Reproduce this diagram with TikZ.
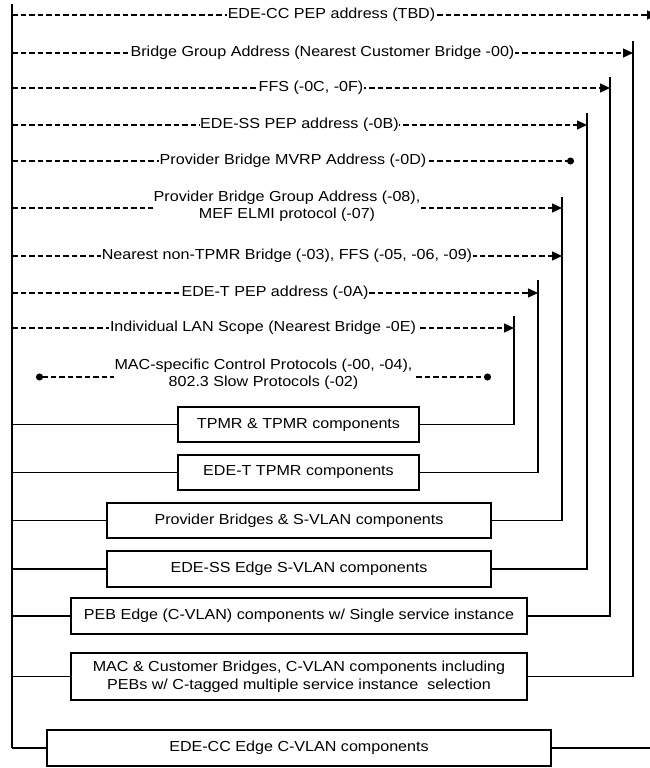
\documentclass[tikz,border=0pt]{standalone}
\usepackage{fontspec}
\setmainfont{Liberation Sans}[FakeStretch=1.11]
\usetikzlibrary{arrows.meta}
\tikzset{
  lbl/.style={font=\fontsize{14.5}{17.5}\selectfont, fill=white, inner xsep=0.6pt, inner ysep=1pt, align=center},
  cbox/.style={draw, line width=1.5pt, font=\fontsize{14.5}{17.5}\selectfont, align=center, inner sep=0pt, fill=white},
  dsh/.style={dash pattern=on 5.5pt off 3pt, line width=1.3pt},
  arr/.style={-{Triangle[length=10pt,width=9pt]}},
  dotend/.style={-{Circle[length=7pt]}},
  dotboth/.style={{Circle[length=7pt]}-{Circle[length=7pt]}},
  solidln/.style={line width=1.9pt},
}
\begin{document}
\begin{tikzpicture}[x=1pt,y=-1pt]
\useasboundingbox (0,0) rectangle (650,768);
% left trunk
\coordinate (ltop) at (12,4);
\coordinate (lbot) at (12,748);
\draw[solidln] (ltop) -- (lbot);
% vertical line tops
\coordinate (v1) at (633,41);
\coordinate (v2) at (610,77);
\coordinate (v3) at (587,113);
\coordinate (v4) at (562,197);
\coordinate (v5) at (538,280);
\coordinate (v6) at (514,316);
% left starts of rows
\coordinate (s1) at (12,15);
\coordinate (s2) at (12,53);
\coordinate (s3) at (12,88);
\coordinate (s4) at (12,125);
\coordinate (s5) at (12,161);
\coordinate (s6) at (12,208);
\coordinate (s7) at (12,256);
\coordinate (s8) at (12,293);
\coordinate (s9) at (12,328);
\coordinate (s10) at (36,377);
% row ends
\coordinate (e1) at (657,15);
\coordinate (e2) at (633,53);
\coordinate (e3) at (610,88);
\coordinate (e4) at (587,125);
\coordinate (e5) at (574,161);
\coordinate (e6) at (562,208);
\coordinate (e7) at (562,256);
\coordinate (e8) at (538,293);
\coordinate (e9) at (514,328);
\coordinate (e10) at (491,377);
% dashed rows
\draw[dsh,arr] (s1) -- (e1) node[lbl,midway,xshift=-3pt] (t1) {EDE-CC PEP address (TBD)};
\draw[dsh,arr] (s2) -- (e2) node[lbl,midway] (t2) {Bridge Group Address (Nearest Customer Bridge -00)};
\draw[dsh,arr] (s3) -- (e3) node[lbl,midway] (t3) {FFS (-0C, -0F)};
\draw[dsh,arr] (s4) -- (e4) node[lbl,midway] (t4) {EDE-SS PEP address (-0B)};
\draw[dsh,dotend] (s5) -- (e5) node[lbl,midway] (t5) {Provider Bridge MVRP Address (-0D)};
\draw[dsh,arr] (s6) -- (e6) node[lbl,midway,yshift=2pt,inner ysep=0pt] (t6) {Provider Bridge Group Address (-08),\\MEF ELMI protocol (-07)};
\draw[dsh,arr] (s7) -- (e7) node[lbl,midway] (t7) {Nearest non-TPMR Bridge (-03), FFS (-05, -06, -09)};
\draw[dsh,arr] (s8) -- (e8) node[lbl,midway] (t8) {EDE-T PEP address (-0A)};
\draw[dsh,arr] (s9) -- (e9) node[lbl,midway] (t9) {Individual LAN Scope (Nearest Bridge -0E)};
\draw[dsh,dotboth] (s10) -- (e10) node[lbl,midway,yshift=3pt,inner ysep=0pt] (t10) {MAC-specific Control Protocols (-00, -04),\\802.3 Slow Protocols (-02)};
% boxes
\node[cbox,minimum width=241pt,minimum height=35pt] (b1) at (298.5,424.5) {TPMR \& TPMR components};
\node[cbox,minimum width=241pt,minimum height=35pt] (b2) at (298.5,472.5) {EDE-T TPMR components};
\node[cbox,minimum width=384pt,minimum height=35pt] (b3) at (299,520.5) {Provider Bridges \& S-VLAN components};
\node[cbox,minimum width=384pt,minimum height=36pt] (b4) at (299,569) {EDE-SS Edge S-VLAN components};
\node[cbox,minimum width=456pt,minimum height=36pt] (b5) at (299,616) {PEB Edge (C-VLAN) components w/ Single service instance};
\node[cbox,minimum width=456pt,minimum height=47pt] (b6) at (299,676.5) {MAC \& Customer Bridges, C-VLAN components including\\PEBs w/ C-tagged multiple service instance\ \ selection};
\node[cbox,minimum width=504pt,minimum height=36pt] (b7) at (299,748) {EDE-CC Edge C-VLAN components};
% connections from trunk to boxes
\foreach \b in {b1,b2,b3,b4,b5,b6}{
  \draw[solidln] (\b.west -| ltop) -- (\b.west);
}
\draw[solidln] (lbot) -- (b7.west);
% right connections
\draw[solidln] (b1.east) -| (v6);
\draw[solidln] (b2.east) -| (v5);
\draw[solidln] (b3.east) -| (v4);
\draw[solidln] (b4.east) -| (v3);
\draw[solidln] (b5.east) -| (v2);
\draw[solidln] (b6.east) -| (v1);
\coordinate (rend) at (652,748);
\draw[solidln] (b7.east) -- (rend);
\end{tikzpicture}
\end{document}
